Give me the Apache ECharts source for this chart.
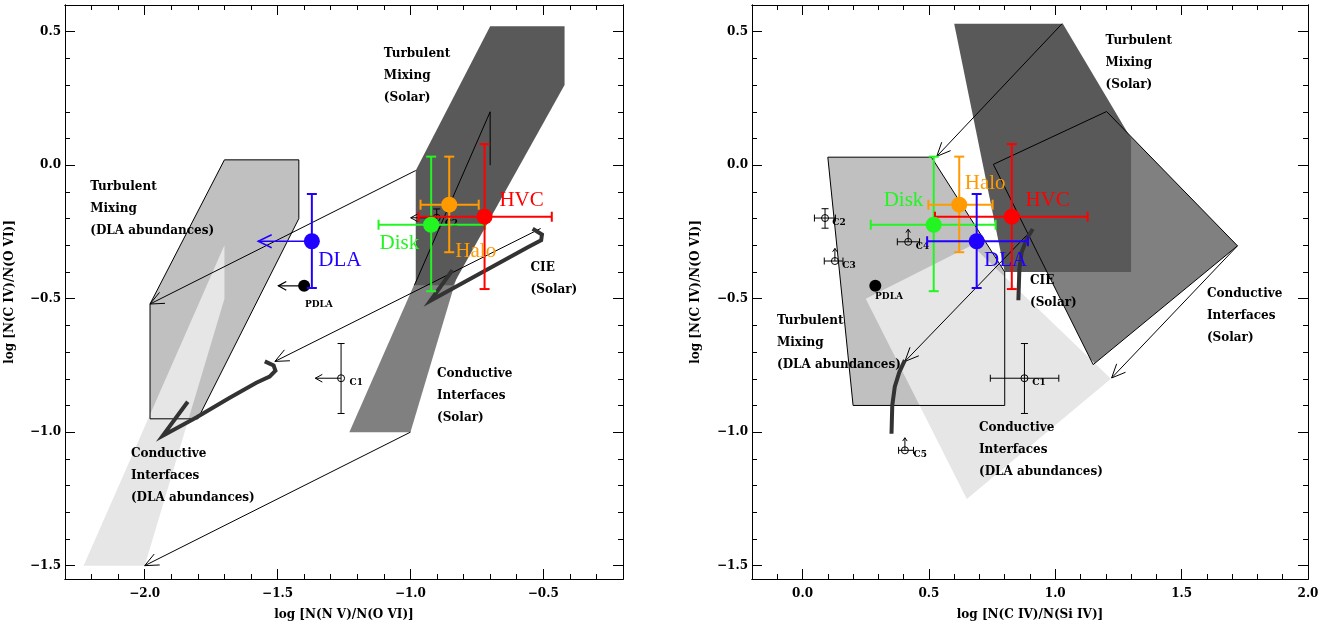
<!DOCTYPE html>
<html><head><meta charset="utf-8">
<script src="https://cdn.jsdelivr.net/npm/echarts@6/dist/echarts.min.js"></script>
<style>html,body{margin:0;padding:0;background:#fff}#c{width:1341px;height:626px}</style>
</head><body><div id="c"></div>
<script>
// ---------------- data ----------------
const L_xTicks = [-2.0, -1.5, -1.0, -0.5];
const R_xTicks = [0.0, 0.5, 1.0, 1.5, 2.0];
const yTicks = [-1.5, -1.0, -0.5, 0.0, 0.5];

// model regions, left panel (x = log N(N V)/N(O VI))
const L_tmDLA = [[-1.70,0.02],[-1.42,0.02],[-1.42,-0.20],[-1.80,-0.95],[-1.98,-0.95],[-1.98,-0.52]];
const L_ciDLA = [[-2.23,-1.50],[-2.00,-1.50],[-1.70,-0.50],[-1.70,-0.30]];
const L_tmSolar = [[-0.70,0.52],[-0.42,0.52],[-0.42,0.30],[-0.84,-0.45],[-0.98,-0.45],[-0.98,-0.02]];
const L_ciSolar = [[-1.23,-1.00],[-1.00,-1.00],[-0.70,0.00],[-0.70,0.20]];
const L_ciSolarInner = [[-0.70,0.00],[-0.70,0.20],[-0.985,-0.45]];
const L_cieSolar = [[-0.540,-0.238],[-0.505,-0.260],[-0.508,-0.281],[-0.560,-0.308],[-0.925,-0.508],[-0.842,-0.393]];
const L_cieDLA = [[-1.548,-0.735],[-1.515,-0.750],[-1.508,-0.770],[-1.530,-0.792],[-1.580,-0.815],[-1.680,-0.871],[-1.806,-0.945],[-1.932,-1.013],[-1.838,-0.886]];
const L_arrows = [[[-0.98,-0.02],[-1.98,-0.52]], [[-1.00,-1.00],[-2.00,-1.50]], [[-0.51,-0.237],[-1.51,-0.735]]];

// model regions, right panel (x = log N(C IV)/N(Si IV))
const R_tmSolar = [[0.60,0.53],[1.03,0.53],[1.30,0.10],[1.30,-0.40],[0.80,-0.40]];
const R_ciSolar = [[0.755,0.003],[1.203,0.201],[1.721,-0.302],[1.150,-0.747]];
const R_tmDLA = [[0.10,0.03],[0.51,0.03],[0.80,-0.40],[0.80,-0.90],[0.20,-0.90]];
const R_ciDLA = [[0.25,-0.50],[0.67,-0.30],[1.22,-0.80],[0.65,-1.25]];
const R_cieSolar = [[0.911,-0.239],[0.887,-0.276],[0.867,-0.326],[0.858,-0.388],[0.854,-0.506]];
const R_cieDLA = [[0.405,-0.730],[0.383,-0.775],[0.365,-0.830],[0.355,-0.900],[0.352,-1.006]];
const R_arrows = [[[1.027,0.53],[0.531,0.033]], [[1.721,-0.302],[1.223,-0.797]], [[0.911,-0.239],[0.405,-0.735]]];

// region labels
const regionText = ['Turbulent\nMixing\n(Solar)', 'Turbulent\nMixing\n(DLA abundances)', 'Conductive\nInterfaces\n(DLA abundances)', 'Conductive\nInterfaces\n(Solar)', 'CIE\n(Solar)'];
const L_regionPos = [[-1.100,0.418],[-2.205,-0.082],[-2.052,-1.083],[-0.900,-0.782],[-0.548,-0.383]];
const R_regionPos = [[1.199,0.467],[-0.101,-0.583],[0.698,-0.984],[1.600,-0.482],[0.900,-0.433]];

// samples
const sampleNames = ['Disk', 'Halo', 'HVC', 'DLA'];
const sampleY   = [-0.223, -0.148, -0.193, -0.285];
const sampleYLo = [-0.472, -0.326, -0.464, -0.460];
const sampleYHi = [ 0.032,  0.032,  0.079, -0.108];
const L_sampleX   = [-0.922, -0.854, -0.721, -1.371];
const L_sampleXLo = [-1.120, -0.962, -0.970, null];
const L_sampleXHi = [-0.719, -0.743, -0.468, null];
const L_sampleXLim = [null, null, null, -1.573];
const R_sampleX   = [0.519, 0.620, 0.828, 0.689];
const R_sampleXLo = [0.270, 0.498, 0.524, 0.493];
const R_sampleXHi = [0.764, 0.752, 1.128, 0.892];
const L_sampleLabelPos = [[-1.116,-0.292],[-0.831,-0.322],[-0.665,-0.134],[-1.347,-0.356]];
const R_sampleLabelPos = [[0.321,-0.134],[0.642,-0.070],[0.882,-0.134],[0.718,-0.356]];

// PDLA
const L_pdla = [-1.400, -0.452]; const L_pdlaLim = -1.497; const L_pdlaLabel = [-1.397, -0.524];
const R_pdla = [0.288, -0.452]; const R_pdlaLabel = [0.287, -0.494];

// intervening components
const L_compNames = ['C1', 'C2'];
const L_compX = [-1.261, -0.901];
const L_compY = [-0.798, -0.197];
const L_compYLo = [-0.930, -0.236];
const L_compYHi = [-0.668, -0.164];
const L_compXLim = [-1.358, -0.999];
const L_compLabelPos = [[-1.229,-0.816],[-0.871,-0.218]];

const R_compNames = ['C1', 'C2', 'C3', 'C4', 'C5'];
const R_compX = [0.878, 0.089, 0.128, 0.418, 0.405];
const R_compY = [-0.798, -0.198, -0.359, -0.287, -1.068];
const R_compXLo = [0.743, 0.047, 0.086, 0.375, 0.380];
const R_compXHi = [1.014, 0.130, 0.160, 0.463, 0.439];
const R_compYLo = [-0.930, -0.236, null, null, null];
const R_compYHi = [-0.668, -0.163, null, null, null];
const R_compYLim = [null, null, -0.312, -0.240, -1.021];
const R_compLabelPos = [[0.909,-0.816],[0.118,-0.215],[0.157,-0.375],[0.448,-0.307],[0.439,-1.086]];

// ---------------- styles ----------------
const FONT = '"DejaVu Serif", serif';
const FONT_SAMPLE = '"Liberation Serif", serif';
const INK = '#000';
const sampleColors = ['#22f522', '#ff9a00', '#ff0000', '#2000ff'];
const C_DARK = '#595959', C_MID = '#808080', C_MED = '#c0c0c0', C_LIGHT = '#e6e6e6', C_CIE = '#333333';

function fmt(v){ const s = Math.abs(v).toFixed(1); return v < -1e-9 ? '\u2212' + s : s; }
function tenths(min, max){ const a = []; for (let k = Math.ceil(min*10 - 1e-9); k <= Math.floor(max*10 + 1e-9); k++) a.push(k/10); return a; }

function makeAxes(dim, gi, min, max, major, name, nameGap){
  const sides = dim === 'x' ? ['bottom', 'top'] : ['left', 'right'];
  const minor = tenths(min, max);
  const out = [];
  sides.forEach((pos, si) => {
    [true, false].forEach(isMajor => {
      const ax = {
        type: 'value', gridIndex: gi, position: pos, min: min, max: max,
        splitLine: {show: false},
        axisLine: {show: true, onZero: false, lineStyle: {color: INK, width: 1}},
        axisTick: {show: true, inside: true, length: isMajor ? 10 : 5, customValues: isMajor ? major : minor, lineStyle: {color: INK, width: 1}},
        axisLabel: {show: false}, silent: true
      };
      if (isMajor && si === 0) {
        ax.axisLabel = {show: true, customValues: major, formatter: fmt, color: INK, fontFamily: FONT, fontSize: 12, fontWeight: 'bold', margin: dim === 'x' ? 9 : 4};
        ax.name = name; ax.nameLocation = 'middle'; ax.nameGap = nameGap;
        ax.nameTextStyle = {color: INK, fontFamily: FONT, fontSize: 12, fontWeight: 'bold'};
      }
      out.push(ax);
    });
  });
  return out;
}

function custom(gi, z, render){
  return {type: 'custom', coordinateSystem: 'cartesian2d', xAxisIndex: gi*4, yAxisIndex: gi*4, z: z,
    silent: true, clip: false, animation: false,
    data: [[gi === 0 ? -1 : 1, 0]],
    renderItem: (params, api) => render(api)};
}
const pts = (api, arr) => arr.map(p => api.coord(p));
function fillPoly(arr, col){ return api => ({type: 'polygon', shape: {points: pts(api, arr)}, style: {fill: col, stroke: null}}); }
function outlinePoly(arr){ return api => ({type: 'polygon', shape: {points: pts(api, arr)}, style: {fill: 'none', stroke: INK, lineWidth: 1}}); }
function lineOf(arr, col, w){ return api => ({type: 'polyline', shape: {points: pts(api, arr)}, style: {fill: 'none', stroke: col, lineWidth: w, lineJoin: 'miter'}}); }
function seg(a, b, col, w){ return {type: 'line', shape: {x1: a[0], y1: a[1], x2: b[0], y2: b[1]}, style: {stroke: col, lineWidth: w, fill: 'none'}}; }
function arrowEls(p0, p1, len, ang, col, w){
  const dx = p1[0]-p0[0], dy = p1[1]-p0[1], L = Math.hypot(dx, dy) || 1;
  const ux = -dx/L, uy = -dy/L;
  const r = (a) => [ux*Math.cos(a) - uy*Math.sin(a), ux*Math.sin(a) + uy*Math.cos(a)];
  const a1 = r(ang), a2 = r(-ang);
  return [seg(p0, p1, col, w),
    {type: 'polyline', shape: {points: [[p1[0]+a1[0]*len, p1[1]+a1[1]*len], p1, [p1[0]+a2[0]*len, p1[1]+a2[1]*len]]}, style: {fill: 'none', stroke: col, lineWidth: w}}];
}
function arrowsOf(list){ return api => ({type: 'group', children: [].concat(...list.map(a => arrowEls(api.coord(a[0]), api.coord(a[1]), 15, 0.42, INK, 1)))}); }
function textEl(p, text, size, weight, col, lh, vAlign, family){
  return {type: 'text', x: p[0], y: vAlign === 'top' ? p[1] - lh/2 : p[1],
    style: {text: text, fill: col, fontSize: size, fontWeight: weight, fontFamily: family || FONT, align: 'left', verticalAlign: vAlign, lineHeight: lh}};
}
function regionTexts(posArr){ return api => ({type: 'group', children: posArr.map((p, i) => textEl(api.coord(p), regionText[i], 12, 'bold', INK, 22, 'top'))}); }

function samplesOf(xs, xlo, xhi, xlim, labelPos){
  return api => {
    const ch = [];
    for (let i = 0; i < xs.length; i++) {
      const col = sampleColors[i], c = api.coord([xs[i], sampleY[i]]);
      const lo = api.coord([xs[i], sampleYLo[i]]), hi = api.coord([xs[i], sampleYHi[i]]);
      ch.push(seg(lo, hi, col, 2), seg([lo[0]-5, lo[1]], [lo[0]+5, lo[1]], col, 2), seg([hi[0]-5, hi[1]], [hi[0]+5, hi[1]], col, 2));
      if (xlo[i] != null) {
        const l = api.coord([xlo[i], sampleY[i]]), h = api.coord([xhi[i], sampleY[i]]);
        ch.push(seg(l, h, col, 2), seg([l[0], l[1]-5], [l[0], l[1]+5], col, 2), seg([h[0], h[1]-5], [h[0], h[1]+5], col, 2));
      }
      if (xlim[i] != null) ch.push(...arrowEls(c, api.coord([xlim[i], sampleY[i]]), 15, 0.45, col, 1.5));
    }
    for (let i = 0; i < xs.length; i++) {
      const c = api.coord([xs[i], sampleY[i]]);
      ch.push({type: 'circle', shape: {cx: c[0], cy: c[1], r: 8}, style: {fill: sampleColors[i]}});
    }
    for (let i = 0; i < xs.length; i++) ch.push(textEl(api.coord(labelPos[i]), sampleNames[i], 21, 'normal', sampleColors[i], 24, 'middle', FONT_SAMPLE));
    return {type: 'group', children: ch};
  };
}
function pdlaOf(p, lim, labelP){
  return api => {
    const c = api.coord(p), ch = [];
    if (lim != null) ch.push(...arrowEls(c, api.coord([lim, p[1]]), 9, 0.5, INK, 1.2));
    ch.push({type: 'circle', shape: {cx: c[0], cy: c[1], r: 6}, style: {fill: INK}});
    ch.push(textEl(api.coord(labelP), 'PDLA', 9, 'bold', INK, 12, 'middle'));
    return {type: 'group', children: ch};
  };
}
function compsOf(names, xs, ys, xlo, xhi, ylo, yhi, xlim, ylim, labelPos){
  return api => {
    const ch = [];
    for (let i = 0; i < xs.length; i++) {
      const c = api.coord([xs[i], ys[i]]);
      if (ylo && ylo[i] != null) {
        const l = api.coord([xs[i], ylo[i]]), h = api.coord([xs[i], yhi[i]]);
        ch.push(seg(l, h, INK, 1), seg([l[0]-3.5, l[1]], [l[0]+3.5, l[1]], INK, 1), seg([h[0]-3.5, h[1]], [h[0]+3.5, h[1]], INK, 1));
      }
      if (xlo && xlo[i] != null) {
        const l = api.coord([xlo[i], ys[i]]), h = api.coord([xhi[i], ys[i]]);
        ch.push(seg(l, h, INK, 1), seg([l[0], l[1]-3.5], [l[0], l[1]+3.5], INK, 1), seg([h[0], h[1]-3.5], [h[0], h[1]+3.5], INK, 1));
      }
      if (xlim && xlim[i] != null) ch.push(...arrowEls(c, api.coord([xlim[i], ys[i]]), 8, 0.5, INK, 1));
      if (ylim && ylim[i] != null) ch.push(...arrowEls(c, api.coord([xs[i], ylim[i]]), 4, 0.6, INK, 1));
      ch.push({type: 'circle', shape: {cx: c[0], cy: c[1], r: 3.5}, style: {fill: 'none', stroke: INK, lineWidth: 1}});
      ch.push(textEl(api.coord(labelPos[i]), names[i], 9, 'bold', INK, 12, 'middle'));
    }
    return {type: 'group', children: ch};
  };
}

const series = [
  // left panel
  custom(0, 1, fillPoly(L_tmDLA, C_MED)),
  custom(0, 2, fillPoly(L_ciDLA, C_LIGHT)),
  custom(0, 3, outlinePoly(L_tmDLA)),
  custom(0, 1, fillPoly(L_ciSolar, C_MID)),
  custom(0, 2, fillPoly(L_tmSolar, C_DARK)),
  custom(0, 3, lineOf(L_ciSolarInner, INK, 1)),
  custom(0, 4, arrowsOf(L_arrows)),
  custom(0, 5, lineOf(L_cieSolar, C_CIE, 4)),
  custom(0, 5, lineOf(L_cieDLA, C_CIE, 4)),
  custom(0, 6, compsOf(L_compNames, L_compX, L_compY, null, null, L_compYLo, L_compYHi, L_compXLim, null, L_compLabelPos)),
  custom(0, 6, pdlaOf(L_pdla, L_pdlaLim, L_pdlaLabel)),
  custom(0, 7, samplesOf(L_sampleX, L_sampleXLo, L_sampleXHi, L_sampleXLim, L_sampleLabelPos)),
  custom(0, 8, regionTexts(L_regionPos)),
  // right panel
  custom(1, 1, fillPoly(R_tmDLA, C_MED)),
  custom(1, 1, fillPoly(R_ciSolar, C_MID)),
  custom(1, 2, fillPoly(R_tmSolar, C_DARK)),
  custom(1, 2, fillPoly(R_ciDLA, C_LIGHT)),
  custom(1, 3, outlinePoly(R_tmDLA)),
  custom(1, 3, outlinePoly(R_ciSolar)),
  custom(1, 4, arrowsOf(R_arrows)),
  custom(1, 5, lineOf(R_cieSolar, C_CIE, 4)),
  custom(1, 5, lineOf(R_cieDLA, C_CIE, 4)),
  custom(1, 6, compsOf(R_compNames, R_compX, R_compY, R_compXLo, R_compXHi, R_compYLo, R_compYHi, null, R_compYLim, R_compLabelPos)),
  custom(1, 6, pdlaOf(R_pdla, null, R_pdlaLabel)),
  custom(1, 7, samplesOf(R_sampleX, R_sampleXLo, R_sampleXHi, [null, null, null, null], R_sampleLabelPos)),
  custom(1, 8, regionTexts(R_regionPos))
];

const chart = echarts.init(document.getElementById('c'));
chart.setOption({
  animation: false,
  backgroundColor: '#fff',
  grid: [
    {left: 65, top: 5, width: 558, height: 578},
    {left: 752, top: 5, width: 556, height: 578}
  ],
  xAxis: [].concat(makeAxes('x', 0, -2.3, -0.2, L_xTicks, 'log [N(N V)/N(O VI)]', 30),
                   makeAxes('x', 1, -0.2, 2.0, R_xTicks, 'log [N(C IV)/N(Si IV)]', 30)),
  yAxis: [].concat(makeAxes('y', 0, -1.55, 0.6, yTicks, 'log [N(C IV)/N(O VI)]', 49),
                   makeAxes('y', 1, -1.55, 0.6, yTicks, 'log [N(C IV)/N(O VI)]', 50)),
  series: series
});
</script></body></html>
